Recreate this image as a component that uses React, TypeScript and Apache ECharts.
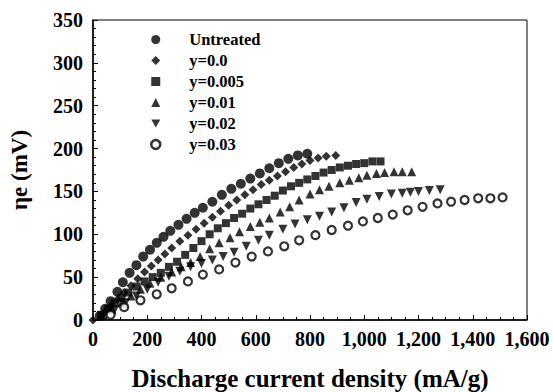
import React, { useEffect, useRef } from "react";
import * as echarts from "echarts";

const seriesNames = ["Untreated", "y=0.0", "y=0.005", "y=0.01", "y=0.02", "y=0.03"];

const untreated: [number, number][] = [
  [25, 5], [45, 13], [65, 22], [90, 33], [110, 44], [135, 55], [160, 64], [185, 74], [210, 82],
  [235, 90], [260, 97], [285, 104], [315, 111], [345, 118], [375, 125], [405, 131], [440, 138],
  [475, 146], [510, 153], [545, 159], [580, 165], [615, 171], [650, 177], [685, 183], [720, 188],
  [755, 192], [790, 194],
];

const y00: [number, number][] = [
  [0, 0], [40, 8], [65, 16], [90, 24], [115, 32], [140, 40], [165, 48], [190, 56], [215, 63],
  [240, 70], [265, 77], [290, 84], [320, 92], [350, 99], [380, 106], [410, 113], [440, 120],
  [470, 127], [500, 134], [530, 140], [560, 146], [590, 152], [620, 158], [650, 163], [680, 168],
  [710, 173], [740, 178], [770, 182], [800, 186], [830, 189], [860, 191], [895, 192],
];

const y005: [number, number][] = [
  [30, 6], [55, 13], [80, 20], [105, 26], [130, 32], [160, 39], [190, 45], [220, 50], [250, 55],
  [280, 62], [310, 68], [340, 76], [370, 84], [400, 92], [430, 100], [460, 107], [490, 113],
  [520, 119], [550, 124], [580, 130], [610, 135], [640, 140], [670, 145], [700, 151], [730, 156],
  [760, 160], [790, 164], [820, 168], [850, 172], [880, 175], [910, 178], [940, 180], [970, 182],
  [1000, 183], [1030, 185], [1060, 185],
];

const y001: [number, number][] = [
  [35, 5], [70, 12], [105, 20], [140, 28], [175, 36], [210, 43], [250, 50], [290, 56], [325, 62],
  [360, 67], [395, 74], [430, 83], [465, 90], [505, 96], [540, 103], [580, 109], [615, 114],
  [650, 119], [690, 126], [725, 132], [760, 140], [800, 147], [835, 152], [870, 156], [910, 160],
  [945, 163], [980, 166], [1010, 169], [1045, 171], [1075, 172], [1110, 173], [1140, 173], [1175, 173],
];

const y002: [number, number][] = [
  [40, 5], [80, 12], [120, 20], [160, 28], [200, 36], [240, 44], [280, 51], [320, 57], [360, 62],
  [400, 66], [440, 70], [480, 74], [520, 79], [565, 86], [610, 93], [650, 99], [700, 106],
  [745, 112], [790, 117], [835, 121], [880, 126], [925, 131], [970, 137], [1010, 141], [1055, 144],
  [1100, 147], [1140, 148], [1170, 149], [1200, 150], [1240, 151], [1280, 152],
];

const y003: [number, number][] = [
  [65, 6], [115, 15], [175, 23], [235, 30], [290, 37], [350, 45], [405, 53], [465, 59], [525, 67],
  [585, 74], [645, 80], [705, 86], [760, 93], [820, 99], [880, 105], [940, 110], [995, 115],
  [1050, 119], [1105, 123], [1160, 128], [1215, 132], [1270, 136], [1320, 138], [1370, 140],
  [1420, 142], [1465, 142], [1510, 143],
];

const xTicks = { min: 0, max: 1600, interval: 200 };
const yTicks = { min: 0, max: 350, interval: 50 };

const FONT = "Liberation Serif";

export default function App() {
  const ref = useRef<HTMLDivElement>(null);
  useEffect(() => {
    if (!ref.current) return;
    const chart = echarts.init(ref.current, undefined, { renderer: "svg" });
    const datasets = [untreated, y00, y005, y001, y002, y003];
    const symbols = ["circle", "diamond", "rect", "triangle", "triangle", "circle"];
    const sizes = [10, 9, 8, 9, 9, 8];
    const series = datasets.map((d, i) => ({
      name: seriesNames[i],
      type: "scatter",
      data: d,
      symbol: symbols[i],
      symbolSize: sizes[i],
      symbolRotate: i === 4 ? 180 : 0,
      clip: false,
      itemStyle:
        i === 5
          ? { color: "#fff", borderColor: "#000", borderWidth: 2.2 }
          : { color: "#000" },
    }));
    const legendData = seriesNames.map((n, i) => {
      if (i === 4) return { name: n, icon: "path://M0,0L10,0L5,9Z" };
      if (i === 5) return { name: n, itemStyle: { color: "#fff", borderColor: "#000", borderWidth: 2.5 } };
      return { name: n };
    });
    chart.setOption({
      animation: false,
      backgroundColor: "#fff",
      textStyle: { fontFamily: FONT },
      grid: {
        left: 93,
        top: 20,
        right: 26,
        bottom: 72,
        show: true,
        borderColor: "#000",
        borderWidth: 1,
        containLabel: false,
        outerBoundsMode: "none",
      },
      legend: {
        orient: "vertical",
        left: 145,
        top: 26,
        itemWidth: 9,
        itemHeight: 9,
        itemGap: 4,
        data: legendData,
        textStyle: {
          fontFamily: FONT,
          fontWeight: "bold",
          fontSize: 16.5,
          color: "#000",
          lineHeight: 16.6,
          padding: [0, 0, 0, 24],
        },
      },
      xAxis: {
        type: "value",
        min: xTicks.min,
        max: xTicks.max,
        interval: xTicks.interval,
        name: "Discharge current density (mA/g)",
        nameLocation: "middle",
        nameGap: 46,
        nameTextStyle: { fontFamily: FONT, fontWeight: "bold", fontSize: 25, color: "#000" },
        axisLine: { show: true, lineStyle: { color: "#000", width: 1.5 } },
        axisTick: { show: true, inside: true, length: 5, lineStyle: { color: "#000" } },
        minorTick: { show: true, splitNumber: 4, length: 3, lineStyle: { color: "#000" } },
        splitLine: { show: false },
        axisLabel: {
          fontFamily: FONT,
          fontWeight: "bold",
          fontSize: 20,
          color: "#000",
          margin: 9,
          formatter: (v: number) => v.toLocaleString("en-US"),
        },
      },
      yAxis: {
        type: "value",
        min: yTicks.min,
        max: yTicks.max,
        interval: yTicks.interval,
        name: "ηe (mV)",
        nameLocation: "middle",
        nameGap: 62,
        nameRotate: 90,
        nameTextStyle: { fontFamily: FONT, fontWeight: "bold", fontSize: 23, color: "#000" },
        axisLine: { show: true, lineStyle: { color: "#000", width: 1.5 } },
        axisTick: { show: true, inside: true, length: 5, lineStyle: { color: "#000" } },
        minorTick: { show: true, splitNumber: 5, length: 3, lineStyle: { color: "#000" } },
        splitLine: { show: false },
        axisLabel: {
          fontFamily: FONT,
          fontWeight: "bold",
          fontSize: 20,
          color: "#000",
          margin: 10,
        },
      },
      series,
    });
    return () => chart.dispose();
  }, []);
  return <div ref={ref} style={{ width: 553, height: 392, position: "absolute", left: 0, top: 0 }} />;
}
